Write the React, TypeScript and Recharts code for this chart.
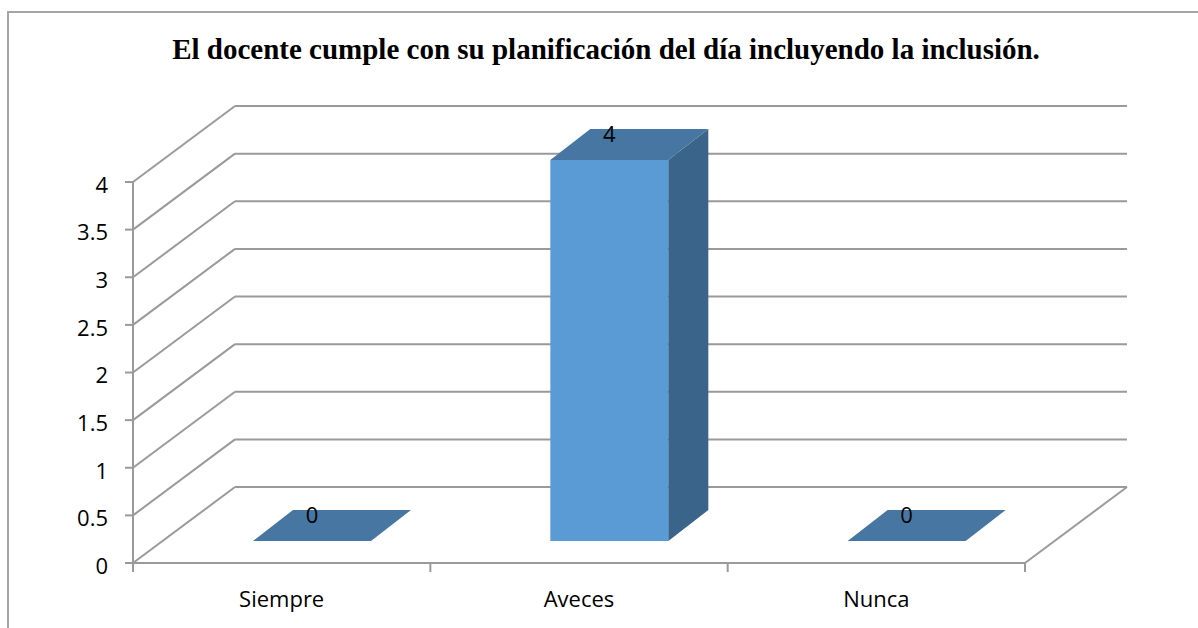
import React from 'react';
import { BarChart, Bar, XAxis, YAxis, CartesianGrid, ReferenceLine, LabelList } from 'recharts';

const TITLE = 'El docente cumple con su planificación del día incluyendo la inclusión.';
const CATEGORIES = ['Siempre', 'Aveces', 'Nunca'];
const VALUES = [0, 4, 0];
const Y_TICKS = [0, 0.5, 1, 1.5, 2, 2.5, 3, 3.5, 4];

const data = CATEGORIES.map((name, i) => ({ name, value: VALUES[i] }));

// 3D projection offsets
const DEPTH_X = 102;
const DEPTH_Y = -76;
const FRONT_X = 30;
const FRONT_Y = -22;
const BAR_DX = 40;
const BAR_DY = -31;

const GRID = '#9a9a9a';
const FONT = '"Open Sans", sans-serif';
const FRONT_FILL = '#5B9BD5';
const TOP_FILL = '#4676A1';
const SIDE_FILL = '#3A6489';

const gridLine = (p: any) => {
  const { x1, y1, x2 } = p;
  return (
    <g key={p.key}>
      <line x1={x1} y1={y1} x2={x1 + DEPTH_X} y2={y1 + DEPTH_Y} stroke={GRID} strokeWidth={2} />
      <line x1={x1 + DEPTH_X} y1={y1 + DEPTH_Y} x2={x2 + DEPTH_X} y2={y1 + DEPTH_Y} stroke={GRID} strokeWidth={2} />
    </g>
  );
};

const floorEdge = (p: any) => (
  <line x1={p.x2} y1={p.y2} x2={p.x2 + DEPTH_X} y2={p.y2 + DEPTH_Y} stroke={GRID} strokeWidth={2} />
);

const Bar3D = (p: any) => {
  const { x, y, width, height } = p;
  const fx = x + FRONT_X;
  const fy = y + FRONT_Y;
  const top = `${fx},${fy} ${fx + width},${fy} ${fx + width + BAR_DX},${fy + BAR_DY} ${fx + BAR_DX},${fy + BAR_DY}`;
  const side = `${fx + width},${fy} ${fx + width + BAR_DX},${fy + BAR_DY} ${fx + width + BAR_DX},${fy + height + BAR_DY} ${fx + width},${fy + height}`;
  return (
    <g>
      {height > 0 && <rect x={fx} y={fy} width={width} height={height} fill={FRONT_FILL} />}
      {height > 0 && <polygon points={side} fill={SIDE_FILL} />}
      <polygon points={top} fill={TOP_FILL} />
    </g>
  );
};

const BarLabel = (p: any) => {
  const { x, y, width, value } = p;
  return (
    <text
      x={x + width / 2 + FRONT_X}
      y={y + FRONT_Y - 26}
      dy="0.355em"
      textAnchor="middle"
      fontFamily={FONT}
      fontSize={22}
      fill="#000"
    >
      {value}
    </text>
  );
};

const YTick = (p: any) => {
  const { x, y, payload } = p;
  return (
    <text x={x} y={y + 3} dy="0.355em" textAnchor="end" fontFamily={FONT} fontSize={22} fill="#000">
      {payload.value}
    </text>
  );
};

const XTick = (p: any) => {
  const { x, y, payload, index, visibleTicksCount } = p;
  const total = typeof p.width === 'number' ? p.width : 892;
  const half = total / CATEGORIES.length / 2;
  const isLast = index === (visibleTicksCount ?? CATEGORIES.length) - 1;
  return (
    <g>
      <line x1={x - half} y1={y} x2={x - half} y2={y + 9} stroke={GRID} strokeWidth={2} />
      {isLast && <line x1={x + half} y1={y} x2={x + half} y2={y + 9} stroke={GRID} strokeWidth={2} />}
      <text x={x} y={y + 44} textAnchor="middle" fontFamily={FONT} fontSize={22} fill="#000">
        {payload.value}
      </text>
    </g>
  );
};

export default function App() {
  return (
    <div
      style={{
        position: 'absolute',
        left: 0,
        top: 0,
        width: 1198,
        height: 628,
        overflow: 'hidden',
        background: '#fff',
      }}
    >
      <div
        style={{
          position: 'absolute',
          left: 7,
          top: 11,
          width: 1300,
          height: 800,
          border: '2px solid #a5a5a5',
          boxSizing: 'border-box',
        }}
      />
      <div
        style={{
          position: 'absolute',
          left: 0,
          top: 35,
          width: 1212,
          textAlign: 'center',
          fontFamily: '"Liberation Serif", "Times New Roman", serif',
          fontWeight: 'bold',
          fontSize: 29,
          lineHeight: '29px',
          color: '#000',
          whiteSpace: 'nowrap',
        }}
      >
        {TITLE}
      </div>
      <BarChart
        width={1198}
        height={628}
        data={data}
        margin={{ top: 182, right: 173, bottom: 25, left: 73 }}
        style={{ position: 'absolute', left: 0, top: 0 }}
      >
        <CartesianGrid vertical={false} horizontal={gridLine} />
        <XAxis
          dataKey="name"
          height={40}
          tickLine={false}
          tickSize={0}
          tickMargin={0}
          axisLine={{ stroke: GRID, strokeWidth: 2 }}
          tick={<XTick />}
          interval={0}
        />
        <YAxis
          width={60}
          domain={[0, 4]}
          ticks={Y_TICKS}
          tickSize={8}
          tickMargin={17}
          axisLine={{ stroke: GRID, strokeWidth: 2 }}
          tickLine={{ stroke: GRID, strokeWidth: 2 }}
          tick={<YTick />}
          interval={0}
        />
        <ReferenceLine y={0} shape={floorEdge} />
        <Bar dataKey="value" barSize={118} shape={<Bar3D />} isAnimationActive={false}>
          <LabelList dataKey="value" content={<BarLabel />} />
        </Bar>
      </BarChart>
    </div>
  );
}
